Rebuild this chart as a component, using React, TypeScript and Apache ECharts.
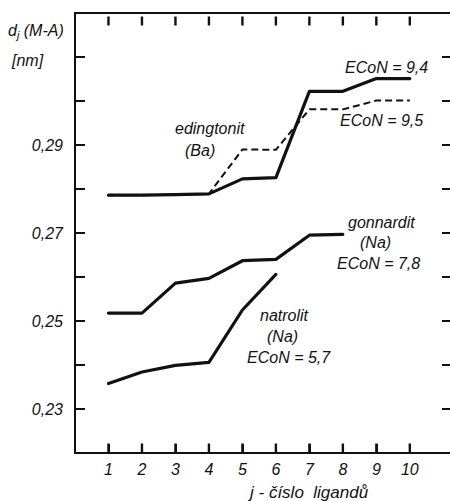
import React, { useEffect, useRef } from "react";
import * as echarts from "echarts";

const ligands = [1, 2, 3, 4, 5, 6, 7, 8, 9, 10];
const edingtonit94 = [0.2786, 0.2786, 0.2787, 0.2789, 0.2823, 0.2826, 0.3022, 0.3022, 0.3051, 0.3051];
const edingtonit95 = [0.2786, 0.2786, 0.2787, 0.2789, 0.2890, 0.2889, 0.2981, 0.2981, 0.3001, 0.3001];
const gonnardit = [0.2518, 0.2518, 0.2586, 0.2597, 0.2637, 0.2640, 0.2695, 0.2697];
const natrolit = [0.2358, 0.2384, 0.2399, 0.2406, 0.2525, 0.2606];
const yLabelValues = [0.23, 0.25, 0.27, 0.29];
const yTickValues = [0.23, 0.24, 0.25, 0.26, 0.27, 0.28, 0.29, 0.30, 0.31];

const Y_MIN = 0.22;
const Y_MAX = 0.32;
const FONT = "Liberation Sans";
const INK = "#111";

function pairs(vals: number[]) {
  return vals.map((v, i) => [ligands[i], v]);
}

export default function App() {
  const ref = useRef<HTMLDivElement>(null);
  useEffect(() => {
    if (!ref.current) return;
    const chart = echarts.init(ref.current, null, { renderer: "svg" });
    const txt = (text: string, x: number, y: number, size = 16) => ({
      type: "text",
      x,
      y,
      style: {
        text,
        font: `italic ${size}px "${FONT}"`,
        fill: INK,
        textAlign: "left",
        textVerticalAlign: "middle",
      },
    });
    chart.setOption({
      animation: false,
      grid: { left: 75, right: 0, top: 13, bottom: 48 },
      xAxis: [
        {
          type: "value", min: 0, max: 11.2, interval: 1, position: "bottom",
          splitLine: { show: false },
          axisLine: { show: true, onZero: false, lineStyle: { color: INK, width: 2 } },
          axisTick: { show: true, inside: true, length: 9, customValues: ligands, lineStyle: { color: INK, width: 2 } },
          axisLabel: { customValues: ligands, margin: 8, fontFamily: FONT, fontStyle: "italic", fontSize: 16, color: INK },
        },
        {
          type: "value", min: 0, max: 11.2, interval: 1, position: "top",
          splitLine: { show: false },
          axisLine: { show: true, onZero: false, lineStyle: { color: INK, width: 2 } },
          axisTick: { show: false },
          axisLabel: { show: false },
        },
      ],
      yAxis: [
        {
          type: "value", min: Y_MIN, max: Y_MAX, interval: 0.01, position: "left",
          splitLine: { show: false },
          axisLine: { show: true, onZero: false, lineStyle: { color: INK, width: 2 } },
          axisTick: { show: true, inside: true, length: 10, customValues: yTickValues, lineStyle: { color: INK, width: 2 } },
          axisLabel: {
            show: true, customValues: yLabelValues, margin: 12,
            fontFamily: FONT, fontStyle: "italic", fontSize: 16, color: INK,
            formatter: (v: number) => v.toFixed(2).replace(".", ","),
          },
        },
        {
          type: "value", min: Y_MIN, max: Y_MAX, interval: 0.01, position: "right",
          splitLine: { show: false },
          axisLine: { show: false, onZero: false },
          axisTick: { show: true, inside: true, length: 8, customValues: yTickValues, lineStyle: { color: INK, width: 2 } },
          axisLabel: { show: false },
        },
      ],
      series: [
        {
          name: "top ticks",
          type: "scatter",
          silent: true,
          clip: false,
          z: 5,
          data: ligands.map((x) => [x, Y_MAX]),
          symbol: "rect",
          symbolSize: [2.4, 9],
          symbolOffset: [0, 8],
          itemStyle: { color: INK, opacity: 1 },
        },
        {
          name: "bottom ticks",
          type: "scatter",
          silent: true,
          clip: false,
          z: 5,
          data: ligands.map((x) => [x, Y_MIN]),
          symbol: "rect",
          symbolSize: [2.4, 9],
          symbolOffset: [0, -5],
          itemStyle: { color: INK, opacity: 1 },
        },
        { name: "edingtonit ECoN=9,4", type: "line", data: pairs(edingtonit94), symbol: "none",
          lineStyle: { color: INK, width: 3.2, cap: "round", join: "round" } },
        { name: "edingtonit ECoN=9,5", type: "line", data: pairs(edingtonit95), symbol: "none",
          lineStyle: { color: INK, width: 2, type: [7, 4] } },
        { name: "gonnardit", type: "line", data: pairs(gonnardit), symbol: "none",
          lineStyle: { color: INK, width: 3.2, cap: "round", join: "round" } },
        { name: "natrolit", type: "line", data: pairs(natrolit), symbol: "none",
          lineStyle: { color: INK, width: 3.2, cap: "round", join: "round" } },
      ],
      graphic: [
        {
          type: "text", x: 8, y: 30,
          style: {
            text: "{d|d}{s|j}{d| (M-A)}",
            fill: INK,
            textVerticalAlign: "middle",
            rich: {
              d: { font: `italic 16px "${FONT}"`, fill: INK },
              s: { font: `italic 11px "${FONT}"`, fill: INK, padding: [10, 0, 0, 0] },
            },
          },
        },
        txt("[nm]", 12, 60),
        txt("ECoN = 9,4", 345, 67),
        txt("ECoN = 9,5", 340, 120),
        txt("edingtonit", 175, 128),
        txt("(Ba)", 185, 150),
        txt("gonnardit", 348, 222),
        txt("(Na)", 360, 242),
        txt("ECoN = 7,8", 337, 263),
        txt("natrolit", 260, 315),
        txt("(Na)", 267, 336),
        txt("ECoN = 5,7", 247, 357),
        txt("j - číslo  ligandů", 250, 492, 17),
      ],
    });
    return () => chart.dispose();
  }, []);
  return (
    <div
      ref={ref}
      style={{ position: "fixed", left: 0, top: 0, width: 450, height: 501, background: "#fff" }}
    />
  );
}
